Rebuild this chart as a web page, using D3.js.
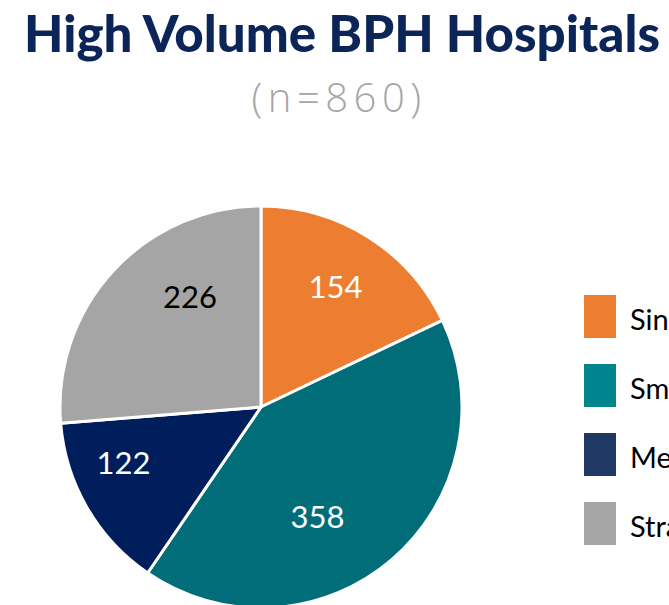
<!DOCTYPE html>
<html><head><meta charset="utf-8">
<script src="https://cdn.jsdelivr.net/npm/d3@7"></script>
<style>html,body{margin:0;padding:0;background:#fff;overflow:hidden}</style>
</head><body>
<svg id="chart" width="669" height="605"></svg>
<script>
const categories = ["Single Hospital", "Small System", "Medium System", "Strategic System"];
const values = [154, 358, 122, 226];
const sliceColors = ["#ED7D31", "#006D79", "#001E5B", "#A5A5A5"];
const legendColors = ["#ED7D31", "#00858F", "#203864", "#A5A5A5"];
const labelColors = ["#ffffff", "#ffffff", "#ffffff", "#000000"];
const titleText = "High Volume BPH Hospitals";
const subtitleText = "(n=860)";

// layout: per-label pixel nudges from the slice centroid (Excel best-fit placement)
const labelNudge = [[7, -13], [-26, 14], [-28, -7], [22, -24]];

const svg = d3.select("#chart");

svg.append("text").attr("x", 342).attr("y", 52).attr("text-anchor", "middle")
  .attr("font-family", "Lato, 'Open Sans', sans-serif").attr("font-weight", 900)
  .attr("font-size", 51).attr("fill", "#0B2559")
  .attr("textLength", 636).attr("lengthAdjust", "spacingAndGlyphs")
  .text(titleText);

svg.append("text").attr("x", 339).attr("y", 112).attr("text-anchor", "middle")
  .attr("font-family", "'Open Sans', sans-serif").attr("font-weight", 300)
  .attr("font-size", 40).attr("fill", "#A6A6A6").attr("letter-spacing", 5.5)
  .text(subtitleText);

const cx = 261, cy = 407, r = 201;
const pie = d3.pie().sort(null).value(d => d)(values);
const arc = d3.arc().innerRadius(0).outerRadius(r);
const g = svg.append("g").attr("transform", `translate(${cx},${cy})`);
g.selectAll("path").data(pie).join("path")
  .attr("d", arc).attr("fill", (d, i) => sliceColors[i])
  .attr("stroke", "#fff").attr("stroke-width", 3).attr("stroke-linejoin", "round");

const labelArc = d3.arc().innerRadius(r * 0.63).outerRadius(r * 0.63);
g.selectAll("text.lbl").data(pie).join("text").attr("class", "lbl")
  .attr("transform", (d, i) => {
    const c = labelArc.centroid(d);
    return `translate(${c[0] + labelNudge[i][0]},${c[1] + labelNudge[i][1]})`;
  })
  .attr("text-anchor", "middle").attr("dy", "0.35em")
  .attr("font-family", "Lato, 'Open Sans', sans-serif").attr("font-size", 31)
  .attr("fill", (d, i) => labelColors[i])
  .text(d => d.data);

const leg = svg.append("g");
const ly = d3.scalePoint().domain(categories).range([295, 502]);
const items = leg.selectAll("g").data(categories).join("g")
  .attr("transform", d => `translate(584,${ly(d)})`);
items.append("rect").attr("width", 32).attr("height", 43)
  .attr("fill", (d, i) => legendColors[i]);
items.append("text").attr("x", 46).attr("y", 35)
  .attr("font-family", "Lato, 'Open Sans', sans-serif").attr("font-size", 29)
  .attr("fill", "#000").text(d => d);
</script>
</body></html>
